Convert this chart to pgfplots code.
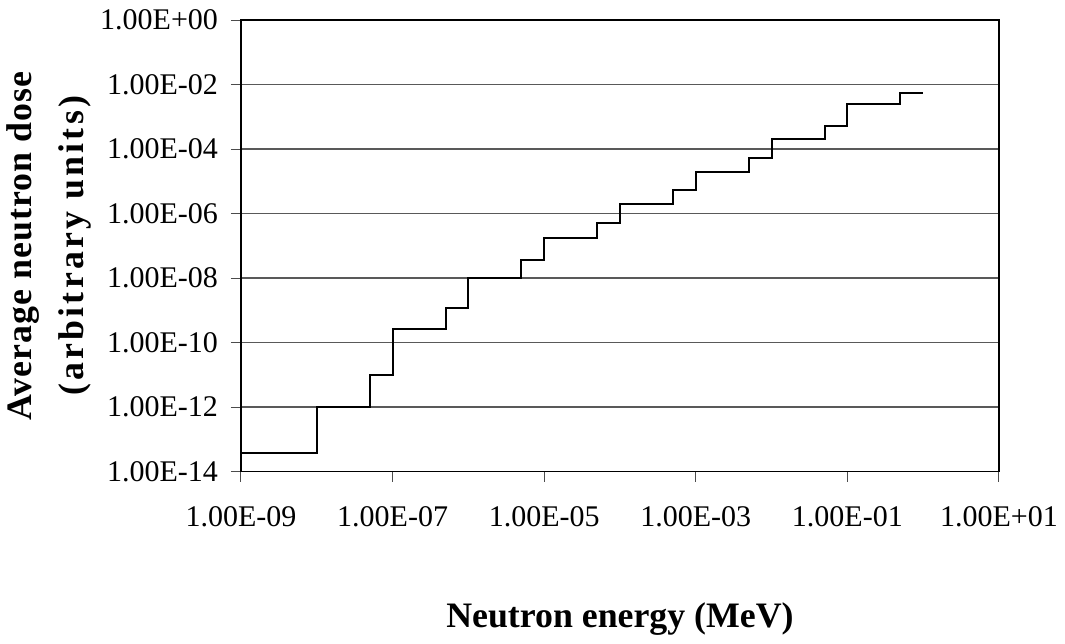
\documentclass[border=0pt]{standalone}
\usepackage{pgfplots}
\pgfplotsset{compat=1.18}
\usepackage{fontspec}
\setmainfont{Liberation Serif}
\begin{document}
\begin{tikzpicture}
\useasboundingbox (-120.5pt,-85.75pt) rectangle (412pt,235.75pt);
\begin{axis}[
  at={(0,0)}, anchor=south west,
  scale only axis,
  width=379pt, height=225.75pt,
  xmode=log, ymode=log,
  xmin=1e-9, xmax=1e1,
  ymin=1e-14, ymax=1,
  xtick={1e-9,1e-7,1e-5,1e-3,1e-1,1e1},
  xticklabels={1.00E-09,1.00E-07,1.00E-05,1.00E-03,1.00E-01,1.00E+01},
  ytick={1e-14,1e-12,1e-10,1e-8,1e-6,1e-4,1e-2,1},
  yticklabels={1.00E-14,1.00E-12,1.00E-10,1.00E-08,1.00E-06,1.00E-04,1.00E-02,1.00E+00},
  minor xtick={}, minor ytick={},
  xtick pos=bottom, ytick pos=left,
  tick align=outside,
  major tick length=5pt,
  tick style={black!70, line width=0.5pt},
  ymajorgrids,
  grid style={black!65, line width=0.6pt},
  axis line style={black, line width=0.8pt},
  ticklabel style={font=\fontsize{15pt}{16pt}\selectfont},
  xticklabel style={yshift=-9pt},
  yticklabel style={xshift=-3pt},
  xlabel={Neutron energy (MeV)},
  xlabel style={font=\fontsize{17.9pt}{20pt}\selectfont\bfseries, at={(axis description cs:0.5,0)}, anchor=center, yshift=-74pt},
  ylabel={{\addfontfeatures{LetterSpace=3}Average neutron dose}\\{\addfontfeatures{LetterSpace=9}(arbitrary units)}},
  ylabel style={font=\fontsize{17.9pt}{26pt}\selectfont\bfseries, align=center, at={(axis description cs:0,0.5)}, anchor=center, yshift=96pt, xshift=0pt},
]
\addplot[const plot, black, line width=1pt] coordinates {
(1e-9,3.8e-14)
(1e-8,1e-12)
(5e-8,1e-11)
(1e-7,2.6e-10)
(5e-7,1.2e-9)
(1e-6,1e-8)
(5e-6,3.6e-8)
(1e-5,1.8e-7)
(5e-5,5e-7)
(1e-4,2e-6)
(5e-4,5.4e-6)
(1e-3,2e-5)
(5e-3,5.2e-5)
(1e-2,2e-4)
(5e-2,5.2e-4)
(1e-1,2.4e-3)
(5e-1,5.3e-3)
(1,5.3e-3)
};
\end{axis}
\end{tikzpicture}
\end{document}
